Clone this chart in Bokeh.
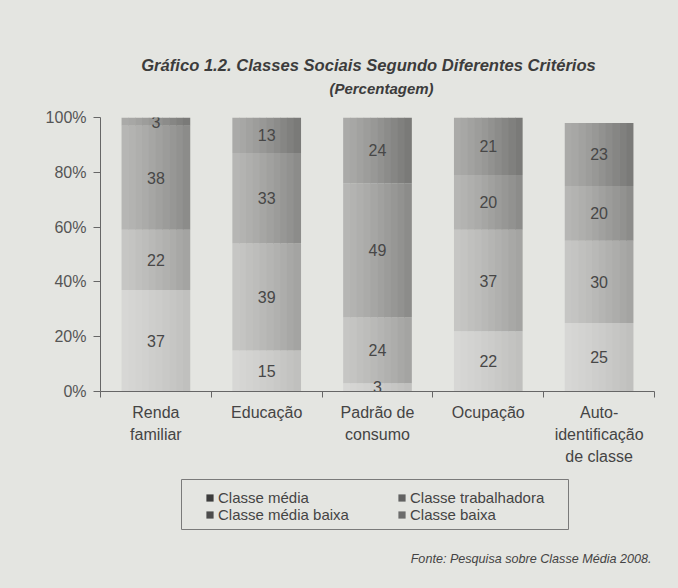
from bokeh.plotting import figure
from bokeh.layouts import column
from bokeh.models import (FactorRange, Range1d, LinearAxis, CategoricalAxis, FixedTicker,
                          ColumnDataSource, Legend, LegendItem, Label)
from bokeh.core.properties import value
from bokeh.transform import dodge
from bokeh.embed import file_html
from bokeh.resources import INLINE

# ---- data ----
categories = ["Renda\nfamiliar", "Educação", "Padrão de\nconsumo", "Ocupação",
              "Auto-\nidentificação\nde classe"]
series = ["Classe baixa", "Classe trabalhadora", "Classe média baixa", "Classe média"]
classe_baixa = [37, 15, 3, 22, 25]
classe_trabalhadora = [22, 39, 24, 37, 30]
classe_media_baixa = [38, 33, 49, 20, 20]
classe_media = [3, 13, 24, 21, 23]
y_ticks = [0, 20, 40, 60, 80, 100]
y_tick_labels = ["0%", "20%", "40%", "60%", "80%", "100%"]

title_line1 = "Gráfico 1.2. Classes Sociais Segundo Diferentes Critérios"
title_line2 = "(Percentagem)"
source_note = "Fonte: Pesquisa sobre Classe Média 2008."

# shading of the printed bars: lighter on the left edge, darker on the right
left_colors = [(0xd7, 0xd7, 0xd5), (0xc6, 0xc6, 0xc4), (0xb6, 0xb6, 0xb4), (0xaa, 0xaa, 0xa8)]
right_colors = [(0xc0, 0xc0, 0xbe), (0xa4, 0xa4, 0xa2), (0x8c, 0x8c, 0x8a), (0x7a, 0x7a, 0x78)]
legend_colors = ["#6c6c6c", "#626262", "#4c4c4c", "#3c3c3c"]
bg = "#e4e5e1"
txt = "#3c3c3c"
FONT = "Liberation Sans"
W = 678
LEFT, RIGHT = 100, 24


def blank(height, y_top, y_bottom):
    f = figure(width=W, height=height, x_range=Range1d(LEFT, W - RIGHT),
               y_range=Range1d(y_bottom, y_top),
               x_axis_location=None, y_axis_location=None, output_backend="svg",
               toolbar_location=None, min_border=0, min_border_left=LEFT,
               min_border_right=RIGHT)
    f.background_fill_alpha = 0
    f.border_fill_color = bg
    f.outline_line_color = None
    f.xgrid.visible = False
    f.ygrid.visible = False
    return f


# ---------- title strip ----------
top = blank(105, 0, 105)
top.add_layout(Label(x=368, y=65, text=title_line1, text_align="center", text_baseline="middle",
                     text_font=FONT, text_font_size="16.6px", text_font_style="bold italic",
                     text_color=txt))
top.add_layout(Label(x=381, y=88, text=title_line2, text_align="center", text_baseline="middle",
                     text_font=FONT, text_font_size="15px", text_font_style="bold italic",
                     text_color=txt))

# ---------- main chart ----------
values = [classe_baixa, classe_trabalhadora, classe_media_baixa, classe_media]
data = {"cat": categories}
for name, vals in zip(series, values):
    data[name] = vals
source = ColumnDataSource(data)

p = figure(width=W, height=367, x_range=FactorRange(factors=categories),
           y_range=Range1d(0, 100), x_axis_location=None, y_axis_location=None,
           output_backend="svg", toolbar_location=None,
           min_border_left=LEFT, min_border_right=RIGHT, min_border_top=12,
           min_border_bottom=81)
p.background_fill_alpha = 0
p.border_fill_color = bg
p.outline_line_color = None
p.xgrid.visible = False
p.ygrid.visible = False

# stacked bars drawn as thin vertical strips to imitate the printed shading
BAR_W = 0.615
N = 10
sw = BAR_W / N
for k in range(N):
    t = (k / (N - 1)) ** 1.2
    cols = []
    for lc, rc in zip(left_colors, right_colors):
        c = tuple(int(round(a + (b - a) * t)) for a, b in zip(lc, rc))
        cols.append("#%02x%02x%02x" % c)
    off = -BAR_W / 2 + sw * (k + 0.5)
    p.vbar_stack(series, x=dodge("cat", off, range=p.x_range), width=sw * 1.08,
                 color=cols, line_color=None, source=source)

# value labels centred in each segment
lx, ly, lt = [], [], []
for i, c in enumerate(categories):
    base = 0
    for vals in values:
        v = vals[i]
        lx.append(c)
        ly.append(base + v / 2)
        lt.append(str(v))
        base += v
p.text(x=lx, y=ly, text=lt, text_align="center", text_baseline="middle",
       text_font=value(FONT), text_font_size="16px", text_color="#474747")

yax = LinearAxis(ticker=FixedTicker(ticks=y_ticks),
                 major_label_overrides={t: l for t, l in zip(y_ticks, y_tick_labels)})
yax.axis_line_color = "#666666"
yax.major_tick_line_color = "#666666"
yax.major_tick_out = 7
yax.major_tick_in = 0
yax.minor_tick_line_color = None
yax.major_label_text_font = FONT
yax.major_label_text_font_size = "16px"
yax.major_label_text_color = "#555555"
yax.major_label_standoff = 7
p.add_layout(yax, "left")

n = len(categories)
bax = LinearAxis(ticker=FixedTicker(ticks=list(range(n + 1))),
                 major_label_overrides={i: "" for i in range(n + 1)})
bax.axis_line_color = "#666666"
bax.major_tick_line_color = "#666666"
bax.major_tick_out = 6
bax.major_tick_in = 0
bax.minor_tick_line_color = None
bax.major_label_text_font_size = "0px"
bax.major_label_standoff = 0
p.add_layout(bax, "below")

cax = CategoricalAxis()
cax.axis_line_color = None
cax.major_tick_line_color = None
cax.major_tick_out = 0
cax.major_label_text_font = FONT
cax.major_label_text_font_size = "16px"
cax.major_label_text_color = "#444444"
cax.major_label_text_line_height = 1.3
cax.major_label_standoff = 6
p.add_layout(cax, "below")

# ---------- legend and source strip ----------
bot = blank(116, 472, 588)
bot.quad(left=[181], right=[568], top=[479], bottom=[529], fill_alpha=0,
         line_color="#7a7a7a", line_width=1)
leg_src = ColumnDataSource({"x": [200], "top": [480], "bottom": [480]})
rend = {}
for k in range(len(series)):
    rend[k] = bot.vbar(x="x", top="top", bottom="bottom", width=0.0, source=leg_src,
                       fill_color=legend_colors[k], line_color=None)


def make_legend(ks, x):
    lg = Legend(items=[LegendItem(label=series[k], renderers=[rend[k]]) for k in ks],
                location=(x - LEFT, 65), orientation="vertical")
    lg.glyph_width = 9
    lg.glyph_height = 9
    lg.label_text_font = FONT
    lg.label_text_font_size = "15px"
    lg.label_text_color = "#444444"
    lg.label_standoff = 4
    lg.label_height = 17
    lg.spacing = 0
    lg.padding = 0
    lg.margin = 0
    lg.border_line_color = None
    lg.background_fill_alpha = 0
    return lg


bot.add_layout(make_legend([3, 2], 205), "center")
bot.add_layout(make_legend([1, 0], 397), "center")
bot.add_layout(Label(x=651, y=558, text=source_note, text_align="right", text_baseline="middle",
                     text_font=FONT, text_font_size="12.6px", text_font_style="italic",
                     text_color="#444444"))

layout = column(top, p, bot, spacing=0, styles={"background-color": bg})
open("out.html", "w").write(file_html(layout, INLINE))
